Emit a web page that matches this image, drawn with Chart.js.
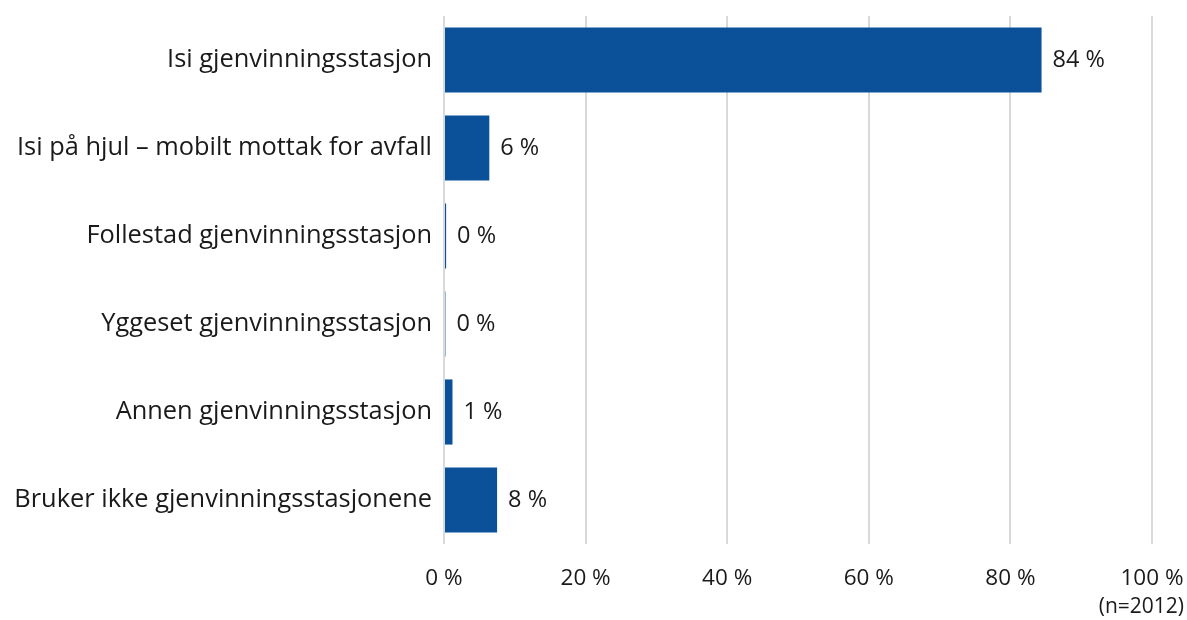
<!DOCTYPE html>
<html>
<head>
<meta charset="utf-8">
<script src="https://cdn.jsdelivr.net/npm/chart.js@4/dist/chart.umd.min.js"></script>
<style>
    html, body { margin: 0; padding: 0; background: #ffffff; }
    #wrap { width: 1187px; height: 620px; }
</style>
</head>
<body>
<div id="wrap"><canvas id="myChart"></canvas></div>
<script>

    // categories and shares (percent)
    var categories = [
        'Isi gjenvinningsstasjon',
        'Isi på hjul \u2013 mobilt mottak for avfall',
        'Follestad gjenvinningsstasjon',
        'Yggeset gjenvinningsstasjon',
        'Annen gjenvinningsstasjon',
        'Bruker ikke gjenvinningsstasjonene'
    ];
    var shares = [84.4, 6.4, 0.3, 0.2, 1.2, 7.5];
    var xTicks = [0, 20, 40, 60, 80, 100];
    var sampleNote = '(n=2012)';

    var fontName = '"Open Sans", Lato, sans-serif';
    var textColor = '#1a1a1a';

    // writes "84 %" next to the end of every bar
    var barLabels = {
        id: 'barLabels',
        afterDatasetsDraw: function(chart) {
            var ctx = chart.ctx;
            var meta = chart.getDatasetMeta(0);
            ctx.save();
            ctx.font = '23.5px ' + fontName;
            ctx.fillStyle = textColor;
            ctx.textBaseline = 'middle';
            ctx.textAlign = 'left';
            meta.data.forEach(function(bar, i) {
                ctx.fillText(Math.round(shares[i]) + ' %', bar.x + 11, bar.y);
            });
            // sample size under the axis, right side
            ctx.textAlign = 'right';
            ctx.font = '21px ' + fontName;
            ctx.fillText(sampleNote, 1184, 607);
            ctx.restore();
        }
    };

    var config = {
        type: 'bar',
        data: {
            labels: categories,
            datasets: [{
                data: shares,
                backgroundColor: '#0b5199',
                borderWidth: 0,
                barPercentage: 0.74,
                categoryPercentage: 1
            }]
        },
        options: {
            indexAxis: 'y',
            responsive: true,
            maintainAspectRatio: false,
            animation: false,
            layout: { padding: { top: 16, right: 35, left: 0, bottom: 0 } },
            plugins: {
                legend: { display: false },
                tooltip: { enabled: false }
            },
            scales: {
                x: {
                    min: 0,
                    max: 100,
                    afterBuildTicks: function(scale) {
                        scale.ticks = xTicks.map(function(v) { return { value: v }; });
                    },
                    afterFit: function(scale) {
                        scale.height = 76;
                        scale.paddingLeft = 0;
                        scale.paddingRight = 0;
                    },
                    grid: { color: '#d9d9d9', lineWidth: 2, drawTicks: false },
                    border: { display: false },
                    ticks: {
                        padding: 21,
                        color: textColor,
                        font: { family: fontName, size: 22.5 },
                        callback: function(v) { return v + ' %'; }
                    }
                },
                y: {
                    afterFit: function(scale) {
                        scale.width = 444;
                        scale.paddingTop = 0;
                        scale.paddingBottom = 0;
                    },
                    grid: { display: false, drawTicks: false },
                    border: { display: false },
                    ticks: {
                        padding: 12,
                        color: textColor,
                        font: { family: fontName, size: 25.4 }
                    }
                }
            }
        },
        plugins: [barLabels]
    };

    var myChart = new Chart(document.getElementById('myChart'), config);

</script>
</body>
</html>
